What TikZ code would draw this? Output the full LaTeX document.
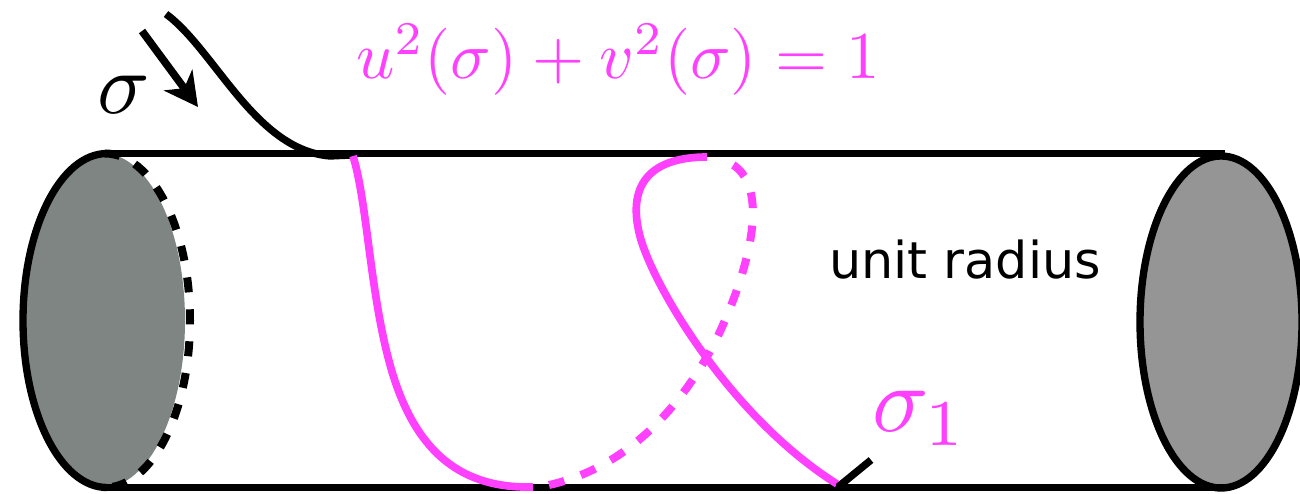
\documentclass[tikz,border=0pt]{standalone}
\usepackage{fontspec}
\usepackage{amsmath}
\usetikzlibrary{arrows.meta}
\newfontfamily\labelfont{DejaVu Sans}
\definecolor{curvepink}{HTML}{FF40FF}
\definecolor{capleft}{HTML}{7F8583}
\definecolor{capright}{HTML}{959595}
\begin{document}
\begin{tikzpicture}[
      x=0.6pt, y=-0.6pt,
      edge/.style={line width=4pt, black},
      capedge/.style={line width=4.4pt, black},
      hidden/.style={line width=4.8pt, black, dash pattern=on 9pt off 10.2pt},
      curve/.style={line width=4.6pt, curvepink},
      curvehidden/.style={line width=4.8pt, curvepink, dash pattern=on 9.5pt off 10.5pt},
      mathlabel/.style={inner sep=0pt},
    ]
    \useasboundingbox (0,0) rectangle (1300,493);
    % end caps
    \fill[capleft] (103,320.5) ellipse [x radius=82, y radius=167];
    \draw[capedge] (107,153.5) arc [start angle=-90, end angle=-270, x radius=84, y radius=167];
    \draw[hidden] (105,153.5) arc [start angle=-90, end angle=90, x radius=85, y radius=167];
    \draw[capedge, fill=capright] (1221,322) ellipse [x radius=81, y radius=166];
    % cylinder sides
    \draw[edge] (107,153.5) -- (1225,153.5);
    \draw[edge] (107,487.5) -- (1225,487.5);
    % free end of the string
    \draw[capedge] (166,14) .. controls (215,50) and (255,150) .. (330,156) -- (352,155);
    \draw[line width=4.6pt, -{Stealth[length=20pt, width=21pt, inset=6pt]}] (142,31) -- (198,107);
    % string on the cylinder
    \draw[curve] (353,156) .. controls (368,205) and (370,300) .. (393,375)
                           .. controls (415,445) and (455,489) .. (533,487);
    \draw[curvehidden] (549,485) .. controls (625,468) and (680,410) .. (716,340)
                                 .. controls (745,280) and (780,175) .. (720,159);
    \draw[curve] (707,157) .. controls (650,157) and (625,185) .. (641,240)
                           .. controls (658,295) and (735,420) .. (837,484);
    \draw[capedge] (838,487) -- (871,460);
    % labels
    \node[mathlabel, scale=4.02, text=curvepink] (constraint) at (618,60) {$u^2(\sigma)+v^2(\sigma)=1$};
    \node[mathlabel, scale=5.2] (sigma) at (124,95) {$\sigma$};
    \node[mathlabel, scale=5.6, text=curvepink] (sigmaone) at (920,418) {$\sigma_1$};
    \node[inner sep=0pt, font=\fontsize{30.5}{36}\labelfont] (radius) at (965,260) {unit radius};
  \end{tikzpicture}
\end{document}
